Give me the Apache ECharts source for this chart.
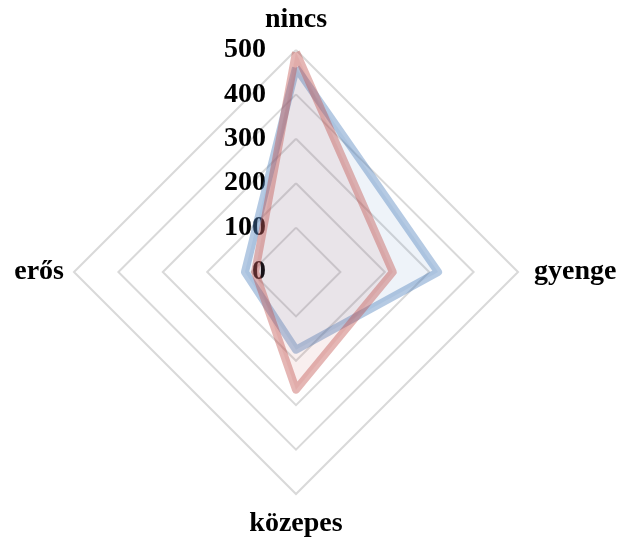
<!DOCTYPE html>
<html>
<head>
<meta charset="utf-8">
<script src="https://cdn.jsdelivr.net/npm/echarts@6/dist/echarts.min.js"></script>
<style>
  html, body { margin: 0; padding: 0; background: #ffffff; }
  #chart { width: 622px; height: 537px; }
</style>
</head>
<body>
<div id="chart"></div>
<script>
// Radar axes in ECharts order (counter-clockwise from the top)
const categories = ['nincs', 'erős', 'közepes', 'gyenge'];
const axisMax = 500;
const tickLabels = ['0', '100', '200', '300', '400', '500'];

// Two response series, same axis order as categories
const seriesBlue = [460, 115, 175, 320];
const seriesRed = [495, 92, 265, 218];

const fontFamily = '"Liberation Serif", "Times New Roman", serif';
const nameGaps = [16, 10, 16, 16];

const chart = echarts.init(document.getElementById('chart'), null, { renderer: 'canvas' });

const indicator = categories.map((name, i) => {
  const ind = { name: name, min: 0, max: axisMax, nameGap: nameGaps[i] };
  if (i === 0) {
    // value labels only along the top axis
    ind.axisLabel = {
      show: true,
      margin: 30,
      color: '#000000',
      fontFamily: fontFamily,
      fontWeight: 'bold',
      fontSize: 28,
      formatter: (v) => tickLabels[Math.round(v / 100)]
    };
  }
  return ind;
});

chart.setOption({
  animation: false,
  backgroundColor: '#ffffff',
  radar: {
    center: [296, 272],
    radius: 222,
    startAngle: 90,
    splitNumber: 5,
    shape: 'polygon',
    indicator: indicator,
    axisName: {
      color: '#000000',
      fontFamily: fontFamily,
      fontWeight: 'bold',
      fontSize: 28
    },
    axisLine: { show: false },
    axisTick: { show: false },
    axisLabel: { show: false },
    splitArea: { show: false },
    splitLine: { lineStyle: { color: '#d9d9d9', width: 2 } }
  },
  series: [{
    type: 'radar',
    symbol: 'none',
    data: [
      {
        value: seriesBlue,
        lineStyle: { color: 'rgba(79,129,189,0.42)', width: 8, join: 'round' },
        areaStyle: { color: 'rgba(79,129,189,0.14)' }
      },
      {
        value: seriesRed,
        lineStyle: { color: 'rgba(192,80,77,0.42)', width: 8, join: 'round' },
        areaStyle: { color: 'rgba(192,80,77,0.13)' }
      }
    ]
  }]
});
</script>
</body>
</html>
